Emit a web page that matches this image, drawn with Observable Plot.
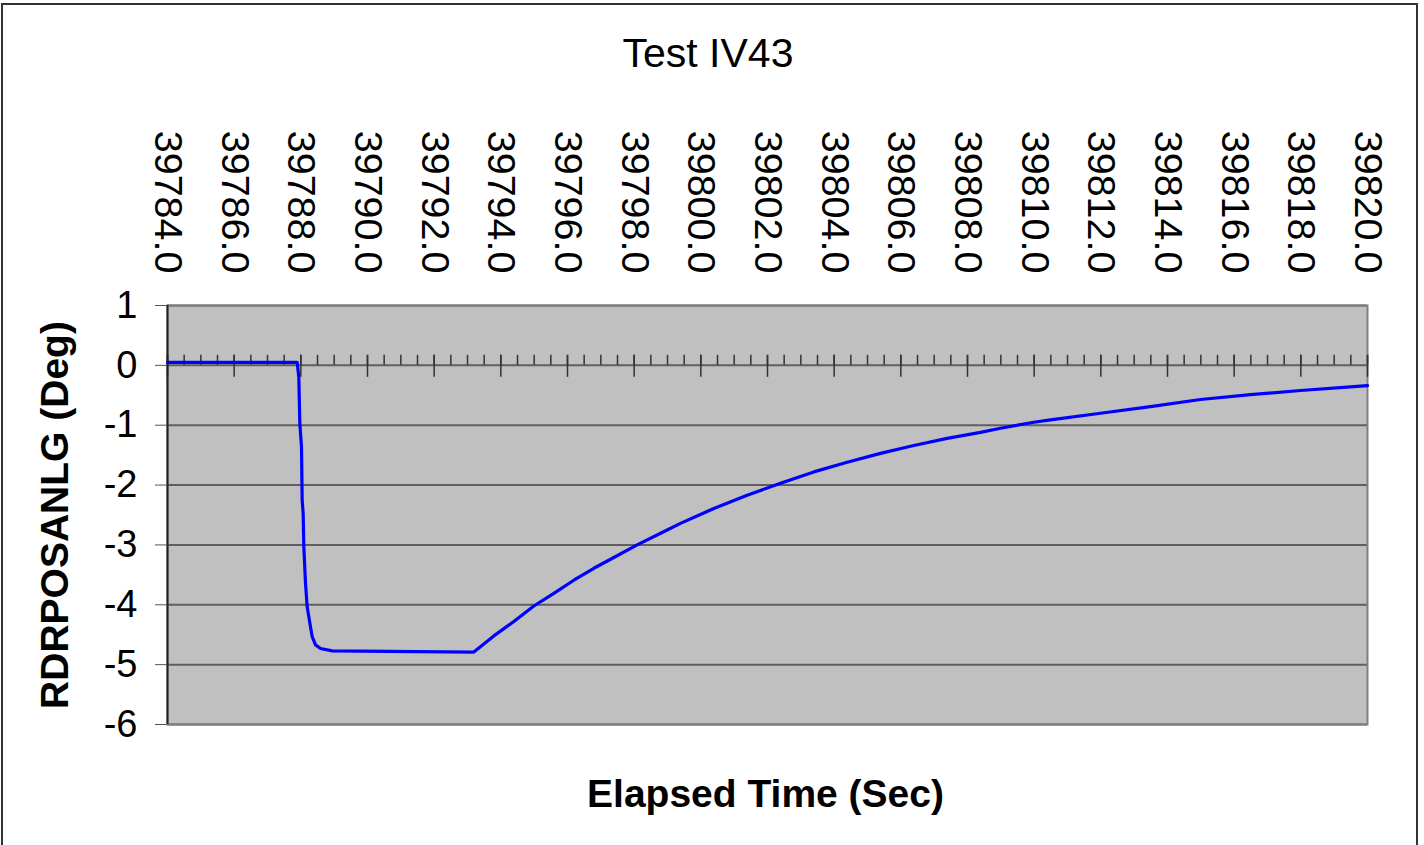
<!DOCTYPE html>
<html>
<head>
<meta charset="utf-8">
<script src="https://cdn.jsdelivr.net/npm/d3@7"></script>
<script src="https://cdn.jsdelivr.net/npm/@observablehq/plot@0.6"></script>
<style>
  html, body { margin: 0; padding: 0; background: #fff; overflow: hidden; }
  #wrap { position: relative; width: 1424px; height: 845px; overflow: hidden; font-family: Arial, "Liberation Sans", sans-serif; }
  #border { position: absolute; left: 1px; top: 3px; width: 1417px; height: 900px; border: 2px solid #333; box-sizing: border-box; }
  #title { position: absolute; left: 0; top: 0; width: 1424px; height: 90px; box-sizing: border-box; padding-top: 33px; padding-right: 8px; text-align: center; font-size: 41px; line-height: 40px; color: #000; }
  #chart { position: absolute; left: 0; top: 90px; }
</style>
</head>
<body>
<div id="wrap">
  <div id="border"></div>
  <div id="title"></div>
  <div id="chart"></div>
</div>
<script>
const chartTitle = "Test IV43";
const xLabel = "Elapsed Time (Sec)";
const yLabel = "RDRPOSANLG (Deg)";

const xDomain = [39784, 39820];
const yDomain = [-6, 1];
const xMajorTicks = d3.range(39784, 39820.001, 2);
const xMinorTicks = d3.range(39784, 39820.001, 0.5);
const yTicks = [1, 0, -1, -2, -3, -4, -5, -6];

const time = [39784.0, 39787.89, 39787.94, 39787.97, 39788.02, 39788.04, 39788.07, 39788.09, 39788.14, 39788.19,
  39788.24, 39788.29, 39788.34, 39788.44, 39788.59, 39788.94, 39793.19, 39793.79, 39794.39, 39794.99,
  39795.59, 39796.19, 39796.79, 39797.39, 39798.09, 39798.99, 39799.39, 39800.39, 39801.39, 39802.39,
  39803.39, 39804.39, 39805.39, 39806.39, 39807.39, 39808.39, 39808.99, 39809.99, 39810.49, 39811.99,
  39813.49, 39814.99, 39816.49, 39817.99, 39819.49, 39820.0];
const angle = [0.05, 0.05, -0.2, -0.97, -1.36, -2.25, -2.48, -3.03, -3.64, -4.03,
  -4.2, -4.37, -4.53, -4.67, -4.73, -4.77, -4.79, -4.52, -4.28, -4.02,
  -3.81, -3.59, -3.39, -3.21, -3.0, -2.75, -2.64, -2.39, -2.17, -1.97,
  -1.78, -1.62, -1.47, -1.34, -1.22, -1.12, -1.05, -0.95, -0.91, -0.80,
  -0.69, -0.57, -0.49, -0.42, -0.36, -0.34];

const data = time.map((t, i) => ({t, v: angle[i]}));

document.getElementById("title").textContent = chartTitle;

const chart = Plot.plot({
  width: 1424,
  height: 755,
  marginTop: 215,
  marginLeft: 167,
  marginRight: 57,
  marginBottom: 121,
  x: {domain: xDomain},
  y: {domain: yDomain},
  style: {fontFamily: "Arial, 'Liberation Sans', sans-serif", fontSize: "38px", color: "#000", background: "transparent", overflow: "visible"},
  marks: [
    Plot.frame({fill: "#C0C0C0"}),
    Plot.gridY(yTicks, {stroke: "#5f5f5f", strokeOpacity: 1, strokeWidth: 2}),
    Plot.frame({stroke: "#808080", strokeWidth: 2}),
    Plot.ruleX(xMinorTicks, {y1: () => 0, y2: () => 0, insetTop: -10, stroke: "#333", strokeWidth: 1.5}),
    Plot.ruleX(xMajorTicks, {y1: () => 0, y2: () => 0, insetTop: -10, insetBottom: -12, stroke: "#333", strokeWidth: 1.5}),
    Plot.ruleX([xDomain[0]], {stroke: "#222", strokeWidth: 2}),
    Plot.line(data, {x: "t", y: "v", stroke: "#0000FF", strokeWidth: 3.2}),
    Plot.axisY(yTicks, {anchor: "left", tickSize: 12, tickPadding: 18, stroke: "#555", tickFormat: d => String(d), label: null}),
    Plot.axisX(xMajorTicks, {anchor: "top", tickSize: 0, tickPadding: 32, tickRotate: 90, fontSize: 39.5, tickFormat: d => d.toFixed(1), label: null}),
    Plot.text([yLabel], {frameAnchor: "left", textAnchor: "middle", dx: -112, rotate: -90, fontWeight: "bold", fontSize: 39, fill: "#000"}),
    Plot.text([xLabel], {frameAnchor: "bottom", textAnchor: "middle", dx: -2, dy: 82, lineAnchor: "bottom", fontWeight: "bold", fontSize: 39, fill: "#000"})
  ]
});
document.getElementById("chart").appendChild(chart);
</script>
</body>
</html>
